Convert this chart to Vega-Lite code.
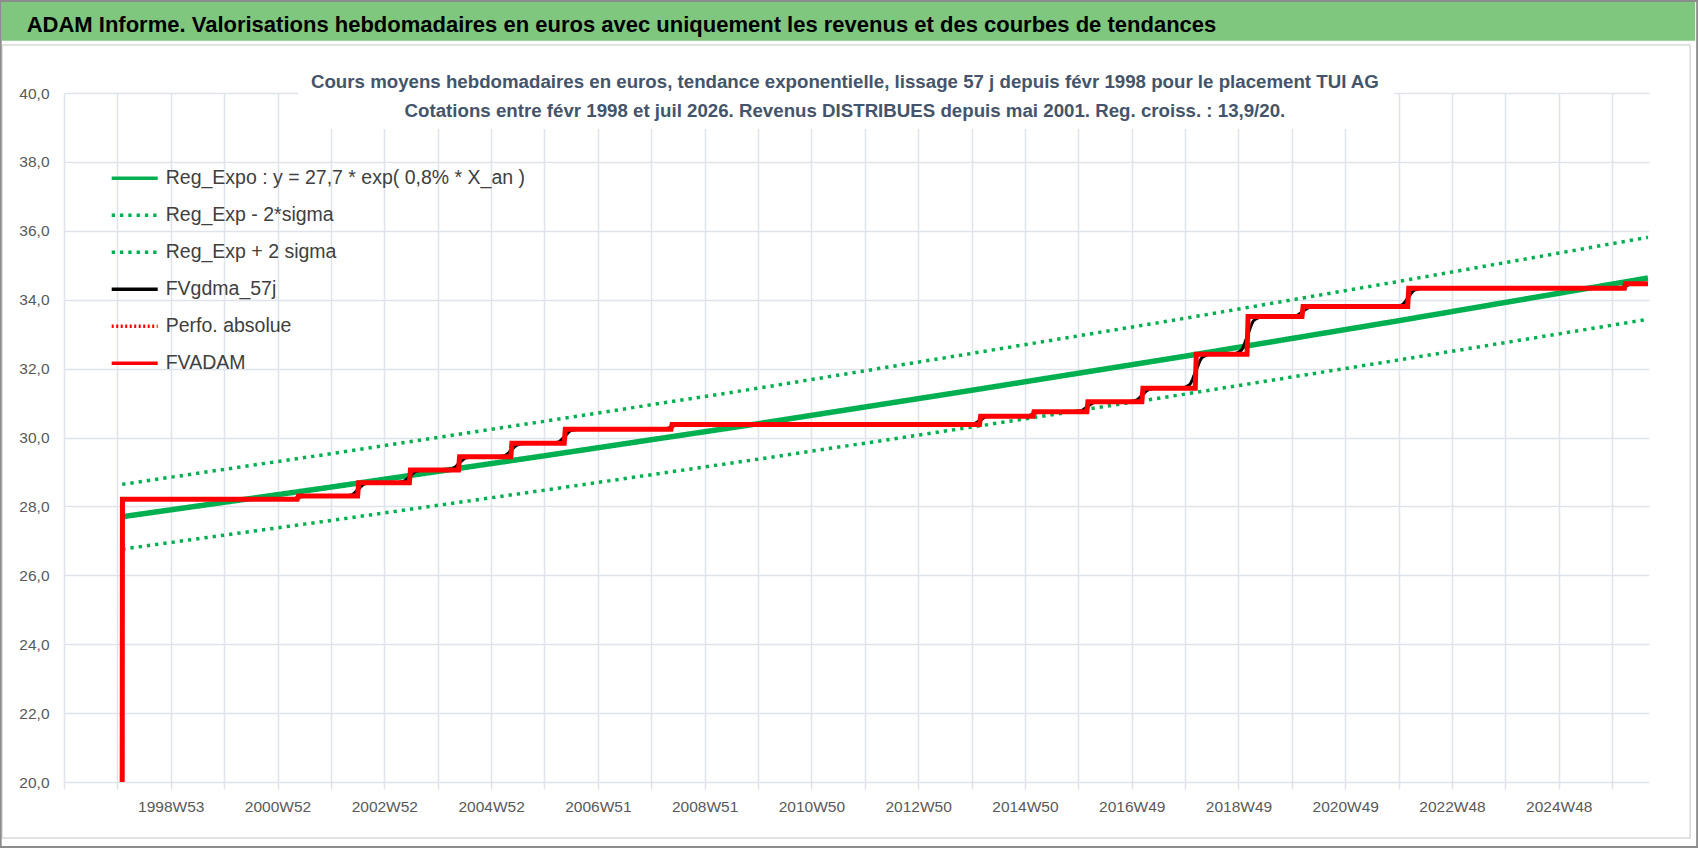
{
  "$schema": "https://vega.github.io/schema/vega-lite/v6.json",
  "width": 1585,
  "height": 689,
  "autosize": {"type": "none"},
  "padding": {"left": 64, "top": 93, "right": 49, "bottom": 66},
  "background": "white",
  "config": {"view": {"stroke": null}, "font": "Liberation Sans, sans-serif"},
  "datasets": {
    "courbes": [
      {"t": 1998.09, "v": 27.70, "serie": "reg"},
      {"t": 2002, "v": 28.56, "serie": "reg"},
      {"t": 2006, "v": 29.47, "serie": "reg"},
      {"t": 2010, "v": 30.40, "serie": "reg"},
      {"t": 2014, "v": 31.37, "serie": "reg"},
      {"t": 2018, "v": 32.36, "serie": "reg"},
      {"t": 2022, "v": 33.39, "serie": "reg"},
      {"t": 2026.67, "v": 34.63, "serie": "reg"},
      {"t": 1998.09, "v": 26.76, "serie": "bas"},
      {"t": 2002, "v": 27.59, "serie": "bas"},
      {"t": 2006, "v": 28.47, "serie": "bas"},
      {"t": 2010, "v": 29.37, "serie": "bas"},
      {"t": 2014, "v": 30.30, "serie": "bas"},
      {"t": 2018, "v": 31.26, "serie": "bas"},
      {"t": 2022, "v": 32.25, "serie": "bas"},
      {"t": 2026.67, "v": 33.43, "serie": "bas"},
      {"t": 1998.09, "v": 28.64, "serie": "haut"},
      {"t": 2002, "v": 29.53, "serie": "haut"},
      {"t": 2006, "v": 30.47, "serie": "haut"},
      {"t": 2010, "v": 31.43, "serie": "haut"},
      {"t": 2014, "v": 32.44, "serie": "haut"},
      {"t": 2018, "v": 33.46, "serie": "haut"},
      {"t": 2022, "v": 34.53, "serie": "haut"},
      {"t": 2026.67, "v": 35.81, "serie": "haut"},
      {"t": 1998.095, "v": 28.21, "serie": "lis"},
      {"t": 2001.08, "v": 28.21, "serie": "lis"},
      {"t": 2001.26, "v": 28.22, "serie": "lis"},
      {"t": 2001.38, "v": 28.255, "serie": "lis"},
      {"t": 2001.50, "v": 28.29, "serie": "lis"},
      {"t": 2001.68, "v": 28.30, "serie": "lis"},
      {"t": 2002.21, "v": 28.30, "serie": "lis"},
      {"t": 2002.39, "v": 28.34, "serie": "lis"},
      {"t": 2002.51, "v": 28.495, "serie": "lis"},
      {"t": 2002.63, "v": 28.65, "serie": "lis"},
      {"t": 2002.81, "v": 28.69, "serie": "lis"},
      {"t": 2003.18, "v": 28.69, "serie": "lis"},
      {"t": 2003.36, "v": 28.73, "serie": "lis"},
      {"t": 2003.48, "v": 28.875, "serie": "lis"},
      {"t": 2003.60, "v": 29.02, "serie": "lis"},
      {"t": 2003.78, "v": 29.06, "serie": "lis"},
      {"t": 2004.10, "v": 29.06, "serie": "lis"},
      {"t": 2004.28, "v": 29.10, "serie": "lis"},
      {"t": 2004.40, "v": 29.25, "serie": "lis"},
      {"t": 2004.52, "v": 29.40, "serie": "lis"},
      {"t": 2004.70, "v": 29.44, "serie": "lis"},
      {"t": 2005.08, "v": 29.44, "serie": "lis"},
      {"t": 2005.26, "v": 29.48, "serie": "lis"},
      {"t": 2005.38, "v": 29.635, "serie": "lis"},
      {"t": 2005.50, "v": 29.79, "serie": "lis"},
      {"t": 2005.68, "v": 29.83, "serie": "lis"},
      {"t": 2006.08, "v": 29.83, "serie": "lis"},
      {"t": 2006.26, "v": 29.87, "serie": "lis"},
      {"t": 2006.38, "v": 30.035, "serie": "lis"},
      {"t": 2006.50, "v": 30.20, "serie": "lis"},
      {"t": 2006.68, "v": 30.24, "serie": "lis"},
      {"t": 2008.08, "v": 30.24, "serie": "lis"},
      {"t": 2008.26, "v": 30.25, "serie": "lis"},
      {"t": 2008.38, "v": 30.31, "serie": "lis"},
      {"t": 2008.50, "v": 30.37, "serie": "lis"},
      {"t": 2008.68, "v": 30.38, "serie": "lis"},
      {"t": 2013.86, "v": 30.38, "serie": "lis"},
      {"t": 2014.04, "v": 30.40, "serie": "lis"},
      {"t": 2014.16, "v": 30.50, "serie": "lis"},
      {"t": 2014.28, "v": 30.60, "serie": "lis"},
      {"t": 2014.46, "v": 30.62, "serie": "lis"},
      {"t": 2014.86, "v": 30.62, "serie": "lis"},
      {"t": 2015.04, "v": 30.63, "serie": "lis"},
      {"t": 2015.16, "v": 30.685, "serie": "lis"},
      {"t": 2015.28, "v": 30.74, "serie": "lis"},
      {"t": 2015.46, "v": 30.75, "serie": "lis"},
      {"t": 2015.87, "v": 30.75, "serie": "lis"},
      {"t": 2016.05, "v": 30.78, "serie": "lis"},
      {"t": 2016.17, "v": 30.895, "serie": "lis"},
      {"t": 2016.29, "v": 31.01, "serie": "lis"},
      {"t": 2016.47, "v": 31.04, "serie": "lis"},
      {"t": 2016.90, "v": 31.04, "serie": "lis"},
      {"t": 2017.08, "v": 31.08, "serie": "lis"},
      {"t": 2017.20, "v": 31.235, "serie": "lis"},
      {"t": 2017.32, "v": 31.39, "serie": "lis"},
      {"t": 2017.50, "v": 31.43, "serie": "lis"},
      {"t": 2017.90, "v": 31.43, "serie": "lis"},
      {"t": 2018.08, "v": 31.53, "serie": "lis"},
      {"t": 2018.20, "v": 31.925, "serie": "lis"},
      {"t": 2018.32, "v": 32.32, "serie": "lis"},
      {"t": 2018.50, "v": 32.42, "serie": "lis"},
      {"t": 2018.87, "v": 32.42, "serie": "lis"},
      {"t": 2019.05, "v": 32.53, "serie": "lis"},
      {"t": 2019.17, "v": 32.965, "serie": "lis"},
      {"t": 2019.29, "v": 33.40, "serie": "lis"},
      {"t": 2019.47, "v": 33.51, "serie": "lis"},
      {"t": 2019.90, "v": 33.51, "serie": "lis"},
      {"t": 2020.08, "v": 33.54, "serie": "lis"},
      {"t": 2020.20, "v": 33.655, "serie": "lis"},
      {"t": 2020.32, "v": 33.77, "serie": "lis"},
      {"t": 2020.50, "v": 33.80, "serie": "lis"},
      {"t": 2021.88, "v": 33.80, "serie": "lis"},
      {"t": 2022.06, "v": 33.85, "serie": "lis"},
      {"t": 2022.18, "v": 34.065, "serie": "lis"},
      {"t": 2022.30, "v": 34.28, "serie": "lis"},
      {"t": 2022.48, "v": 34.33, "serie": "lis"},
      {"t": 2025.94, "v": 34.33, "serie": "lis"},
      {"t": 2026.12, "v": 34.34, "serie": "lis"},
      {"t": 2026.24, "v": 34.395, "serie": "lis"},
      {"t": 2026.36, "v": 34.45, "serie": "lis"},
      {"t": 2026.67, "v": 34.46, "serie": "lis"},
      {"t": 1998.09, "v": 20.0, "serie": "adam"},
      {"t": 1998.095, "v": 28.21, "serie": "adam"},
      {"t": 2001.37, "v": 28.21, "serie": "adam"},
      {"t": 2001.39, "v": 28.30, "serie": "adam"},
      {"t": 2002.50, "v": 28.30, "serie": "adam"},
      {"t": 2002.52, "v": 28.69, "serie": "adam"},
      {"t": 2003.47, "v": 28.69, "serie": "adam"},
      {"t": 2003.49, "v": 29.06, "serie": "adam"},
      {"t": 2004.39, "v": 29.06, "serie": "adam"},
      {"t": 2004.41, "v": 29.44, "serie": "adam"},
      {"t": 2005.37, "v": 29.44, "serie": "adam"},
      {"t": 2005.39, "v": 29.83, "serie": "adam"},
      {"t": 2006.37, "v": 29.83, "serie": "adam"},
      {"t": 2006.39, "v": 30.24, "serie": "adam"},
      {"t": 2008.37, "v": 30.24, "serie": "adam"},
      {"t": 2008.39, "v": 30.38, "serie": "adam"},
      {"t": 2014.15, "v": 30.38, "serie": "adam"},
      {"t": 2014.17, "v": 30.62, "serie": "adam"},
      {"t": 2015.15, "v": 30.62, "serie": "adam"},
      {"t": 2015.17, "v": 30.75, "serie": "adam"},
      {"t": 2016.16, "v": 30.75, "serie": "adam"},
      {"t": 2016.18, "v": 31.04, "serie": "adam"},
      {"t": 2017.19, "v": 31.04, "serie": "adam"},
      {"t": 2017.21, "v": 31.43, "serie": "adam"},
      {"t": 2018.19, "v": 31.43, "serie": "adam"},
      {"t": 2018.21, "v": 32.42, "serie": "adam"},
      {"t": 2019.16, "v": 32.42, "serie": "adam"},
      {"t": 2019.18, "v": 33.51, "serie": "adam"},
      {"t": 2020.19, "v": 33.51, "serie": "adam"},
      {"t": 2020.21, "v": 33.80, "serie": "adam"},
      {"t": 2022.17, "v": 33.80, "serie": "adam"},
      {"t": 2022.19, "v": 34.33, "serie": "adam"},
      {"t": 2026.23, "v": 34.33, "serie": "adam"},
      {"t": 2026.25, "v": 34.46, "serie": "adam"},
      {"t": 2026.67, "v": 34.46, "serie": "adam"}
    ]
  },
  "layer": [
    {
      "data": {"name": "courbes"},
      "transform": [{"filter": "datum.serie == 'reg'"}],
      "mark": {"type": "line", "strokeWidth": 5.5},
      "encoding": {
        "x": {
          "field": "t", "type": "quantitative",
          "scale": {"domain": [1997, 2026.69], "nice": false, "zero": false},
          "axis": {
            "title": null,
            "values": [1997, 1998, 1999, 2000, 2001, 2002, 2003, 2004, 2005, 2006, 2007, 2008, 2009, 2010, 2011, 2012, 2013, 2014, 2015, 2016, 2017, 2018, 2019, 2020, 2021, 2022, 2023, 2024, 2025, 2026],
            "labelExpr": "['','','1998W53','','2000W52','','2002W52','','2004W52','','2006W51','','2008W51','','2010W50','','2012W50','','2014W50','','2016W49','','2018W49','','2020W49','','2022W48','','2024W48',''][round(datum.value - 1997)]",
            "grid": true, "gridColor": "#dfe3ea", "gridWidth": 1.5,
            "domain": false,
            "ticks": true, "tickColor": "#dfe3ea", "tickWidth": 1.5, "tickSize": 7,
            "labelFont": "Liberation Sans, sans-serif",
            "labelFontSize": 15.5, "labelColor": "#595959", "labelPadding": 10,
            "labelOverlap": false, "labelFlush": false, "labelAngle": 0
          }
        },
        "y": {
          "field": "v", "type": "quantitative",
          "scale": {"domain": [20, 40], "nice": false, "zero": false},
          "axis": {
            "title": null,
            "values": [20, 22, 24, 26, 28, 30, 32, 34, 36, 38, 40],
            "labelExpr": "replace(format(datum.value, '.1f'), '.', ',')",
            "grid": true, "gridColor": "#dfe3ea", "gridWidth": 1.5,
            "domain": false, "ticks": false,
            "labelFont": "Liberation Sans, sans-serif",
            "labelFontSize": 15.5, "labelColor": "#595959", "labelPadding": 15
          }
        },
        "color": {
          "field": "serie", "type": "nominal",
          "scale": {"domain": ["reg", "bas", "haut", "lis", "perf", "adam"], "range": ["#00b050", "#00b050", "#00b050", "#000000", "#ff0000", "#ff0000"]},
          "legend": {
            "title": null, "orient": "none", "legendX": 45.7, "legendY": 60.3,
            "symbolType": "stroke", "symbolSize": 2116, "symbolStrokeWidth": 3.5,
            "labelFont": "Liberation Sans, sans-serif",
            "labelFontSize": 19.5, "labelColor": "#404040", "labelOffset": 6, "labelLimit": 700,
            "labelExpr": "['Reg_Expo : y = 27,7 * exp( 0,8% *  X_an )','Reg_Exp - 2*sigma','Reg_Exp + 2 sigma','FVgdma_57j','Perfo. absolue','FVADAM'][indexof(['reg','bas','haut','lis','perf','adam'], datum.value)]"
          }
        },
        "strokeDash": {
          "field": "serie", "type": "nominal",
          "scale": {"domain": ["reg", "bas", "haut", "lis", "perf", "adam"], "range": [[1, 0], [3.3, 5], [3.3, 5], [1, 0], [2, 2.5], [1, 0]]},
          "legend": {
            "title": null, "orient": "none", "legendX": 45.7, "legendY": 60.3,
            "symbolType": "stroke", "symbolSize": 2116, "symbolStrokeWidth": 3.5,
            "labelFont": "Liberation Sans, sans-serif",
            "labelFontSize": 19.5, "labelColor": "#404040", "labelOffset": 6, "labelLimit": 700,
            "labelExpr": "['Reg_Expo : y = 27,7 * exp( 0,8% *  X_an )','Reg_Exp - 2*sigma','Reg_Exp + 2 sigma','FVgdma_57j','Perfo. absolue','FVADAM'][indexof(['reg','bas','haut','lis','perf','adam'], datum.value)]"
          }
        }
      }
    },
    {
      "data": {"name": "courbes"},
      "transform": [{"filter": "datum.serie == 'bas' || datum.serie == 'haut'"}],
      "mark": {"type": "line", "strokeWidth": 3.5},
      "encoding": {
        "x": {"field": "t", "type": "quantitative"},
        "y": {"field": "v", "type": "quantitative"},
        "color": {"field": "serie", "type": "nominal"},
        "strokeDash": {"field": "serie", "type": "nominal"}
      }
    },
    {
      "data": {"name": "courbes"},
      "transform": [{"filter": "datum.serie == 'lis'"}],
      "mark": {"type": "line", "interpolate": "monotone", "strokeWidth": 3},
      "encoding": {
        "x": {"field": "t", "type": "quantitative"},
        "y": {"field": "v", "type": "quantitative"},
        "color": {"field": "serie", "type": "nominal"},
        "strokeDash": {"field": "serie", "type": "nominal"}
      }
    },
    {
      "data": {"name": "courbes"},
      "transform": [{"filter": "datum.serie == 'adam'"}],
      "mark": {"type": "line", "strokeWidth": 5},
      "encoding": {
        "x": {"field": "t", "type": "quantitative"},
        "y": {"field": "v", "type": "quantitative"},
        "color": {"field": "serie", "type": "nominal"},
        "strokeDash": {"field": "serie", "type": "nominal"}
      }
    },
    {
      "data": {"values": [{}]},
      "mark": {"type": "rect", "fill": "transparent", "stroke": "#d9d9d9", "strokeWidth": 1.5},
      "encoding": {
        "x": {"datum": 1995.84, "type": "quantitative", "axis": {"title": null}},
        "x2": {"datum": 2027.461},
        "y": {"datum": 41.39, "type": "quantitative", "axis": {"title": null}},
        "y2": {"datum": 18.375}
      }
    },
    {
      "data": {"values": [{}]},
      "mark": {"type": "rect", "fill": "#7fc77f"},
      "encoding": {
        "x": {"datum": 1995.833, "type": "quantitative", "axis": {"title": null}},
        "x2": {"datum": 2027.555},
        "y": {"datum": 42.7, "type": "quantitative", "axis": {"title": null}},
        "y2": {"datum": 41.518}
      }
    },
    {
      "data": {"values": [{}]},
      "mark": {"type": "rect", "fill": "transparent", "stroke": "#8c8c8c", "strokeWidth": 2},
      "encoding": {
        "x": {"datum": 1995.814, "type": "quantitative", "axis": {"title": null}},
        "x2": {"datum": 2027.592},
        "y": {"datum": 42.67, "type": "quantitative", "axis": {"title": null}},
        "y2": {"datum": 18.113}
      }
    },
    {
      "data": {"values": [{}]},
      "mark": {"type": "rect", "fill": "white"},
      "encoding": {
        "x": {"datum": 2001.38, "type": "quantitative", "axis": {"title": null}},
        "x2": {"datum": 2021.915},
        "y": {"datum": 40.3, "type": "quantitative", "axis": {"title": null}},
        "y2": {"datum": 38.955}
      }
    },
    {
      "data": {"values": [{}]},
      "mark": {
        "type": "text", "text": "ADAM Informe. Valorisations hebdomadaires en euros avec uniquement les revenus et des courbes de tendances",
        "align": "left", "baseline": "alphabetic",
        "font": "Liberation Sans, sans-serif", "fontSize": 22, "fontWeight": "bold", "color": "#000000"
      },
      "encoding": {
        "x": {"datum": 1996.301, "type": "quantitative", "axis": {"title": null}},
        "y": {"datum": 41.771, "type": "quantitative", "axis": {"title": null}}
      }
    },
    {
      "data": {"values": [{}]},
      "mark": {
        "type": "text",
        "text": ["Cours moyens hebdomadaires en euros, tendance exponentielle, lissage 57 j depuis févr 1998 pour le placement TUI AG", "Cotations entre févr 1998 et juil 2026. Revenus DISTRIBUES depuis mai 2001. Reg. croiss. : 13,9/20."],
        "align": "center", "baseline": "alphabetic", "lineHeight": 29,
        "font": "Liberation Sans, sans-serif", "fontSize": 18.7, "fontWeight": "bold", "color": "#44546a"
      },
      "encoding": {
        "x": {"datum": 2011.628, "type": "quantitative", "axis": {"title": null}},
        "y": {"datum": 40.145, "type": "quantitative", "axis": {"title": null}}
      }
    }
  ]
}
